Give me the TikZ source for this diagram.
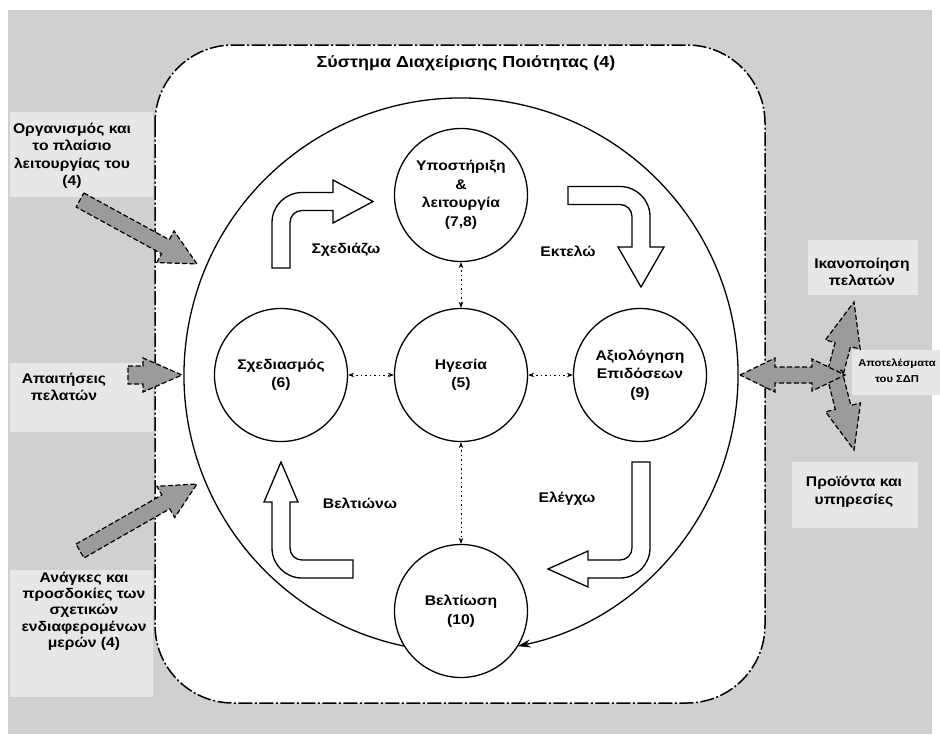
\documentclass[tikz,border=0pt]{standalone}
\usepackage{fontspec}
\setmainfont{Liberation Sans}[FakeStretch=1.12]
\usetikzlibrary{arrows.meta,calc}
\definecolor{bggray}{RGB}{208,208,208}
\definecolor{boxgray}{RGB}{231,231,231}
\definecolor{arrgray}{RGB}{155,155,155}
\newcommand\garrow[7]{%
 \pgfmathsetmacro\gdx{#3-#1}%
 \pgfmathsetmacro\gdy{#4-#2}%
 \pgfmathsetlengthmacro\glen{veclen(\gdx,\gdy)}%
 \pgfmathsetmacro\gang{atan2(-(\gdy),\gdx)}%
 \pgfmathsetlengthmacro\gb{\glen-#7pt}%
 \draw[grayarr,shift={(#1,#2)},rotate=\gang] (0pt,#5pt) -- (\gb,#5pt) -- (\gb,#6pt) -- (\glen,0pt) -- (\gb,-#6pt) -- (\gb,-#5pt) -- (0pt,-#5pt) -- cycle;}
\begin{document}
\begin{tikzpicture}[x=1pt,y=-1pt,
  lbl/.style={font=\bfseries\fontsize{14}{17.5}\selectfont, align=center, inner sep=0pt},
  circ/.style={circle, draw, line width=1.3pt, fill=white, minimum size=133pt, inner sep=0pt, align=center, font=\bfseries\fontsize{14}{18.5}\selectfont},
  hollow/.style={draw, line width=1.3pt, fill=white, line join=miter},
  grayarr/.style={draw, fill=arrgray, line width=1.2pt, dash pattern=on 5pt off 2.5pt, line join=miter},
  dotc/.style={{Stealth[length=6pt,width=4.5pt]}-{Stealth[length=6pt,width=4.5pt]}, line width=0.7pt, dash pattern=on 1.5pt off 3pt},
  bigline/.style={line width=1.3pt},
  framebox/.style={draw, fill=white, line width=1.5pt, rounded corners=78pt, dash pattern=on 14pt off 2.5pt on 2pt off 2.5pt},
  lightbox/.style={fill=boxgray, draw=none}]
\useasboundingbox (0,0) rectangle (940,734);
\clip (0,0) rectangle (940,734);
% background
\fill[white] (0,0) rectangle (940,734);
\fill[bggray] (8,10) rectangle (932,734);
\fill[lightbox] (10,112) rectangle (153,197);
\fill[lightbox] (10,363) rectangle (153,432);
\fill[lightbox] (10,570) rectangle (153,697);
\fill[lightbox] (808,240) rectangle (918,295);
\fill[lightbox] (852,350) rectangle (940,395);
\fill[lightbox] (792,462) rectangle (918,528);
% frame
\draw[framebox] (155,45) rectangle (765,703);
\node[font=\bfseries\fontsize{16}{18}\selectfont, inner sep=0pt] (title) at (466,63) {Σύστημα Διαχείρισης Ποιότητας (4)};
% big circle
\coordinate (bigc) at (461,375);
\draw[bigline,-{Stealth[length=13pt,width=8pt]}] ([shift={(258.2:277pt)}]bigc) arc[start angle=258.2,end angle=-78.2,radius=277pt];
% hollow arrows
\draw[hollow] (272,268) -- (272,222.5) arc[start angle=180,end angle=90,radius=30pt] -- (333,192.5) -- (333,180) -- (373,201.5) -- (333,223) -- (333,210.5) -- (302,210.5) arc[start angle=90,end angle=180,radius=12pt] -- (290,268) -- cycle;
\draw[hollow] (568,186.5) -- (620,186.5) arc[start angle=90,end angle=0,radius=30pt] -- (650,247) -- (664,247) -- (641,287) -- (618,247) -- (632,247) -- (632,216.5) arc[start angle=0,end angle=90,radius=12pt] -- (568,204.5) -- cycle;
\draw[hollow] (632,462) -- (650,462) -- (650,548) arc[start angle=0,end angle=-90,radius=30pt] -- (588,578) -- (588,587) -- (548,569) -- (588,551) -- (588,560) -- (620,560) arc[start angle=-90,end angle=0,radius=12pt] -- cycle;
\draw[hollow] (353,560) -- (353,578) -- (302,578) arc[start angle=-90,end angle=-180,radius=30pt] -- (272,502) -- (264,502) -- (281,462) -- (298,502) -- (290,502) -- (290,548) arc[start angle=180,end angle=270,radius=12pt] -- cycle;
\node[lbl] (tS) at (346,250) {Σχεδιάζω};
\node[lbl] (tE) at (568,251) {Εκτελώ};
\node[lbl] (tB) at (360,503) {Βελτιώνω};
\node[lbl] (tL) at (567,499) {Ελέγχω};
% circles
\node[circ] (supp) at (461,195) {Υποστήριξη\\\&\\λειτουργία\\(7,8)};
\node[circ] (plan) at (281,375) {Σχεδιασμός\\(6)};
\node[circ] (lead) at (461,375) {Ηγεσία\\(5)};
\node[circ] (eval) at (640,375) {Αξιολόγηση\\Επιδόσεων\\(9)};
\node[circ] (impr) at (461,611) {Βελτίωση\\(10)};
\draw[dotc] (supp) -- (lead);
\draw[dotc] (plan) -- (lead);
\draw[dotc] (lead) -- (eval);
\draw[dotc] (lead) -- (impr);
% side labels
\node[lbl] (org) at (72,156) {Οργανισμός και\\το πλαίσιο\\λειτουργίας του\\(4)};
\node[lbl] (req) at (64,387) {Απαιτήσεις\\πελατών};
\node[lbl, font=\bfseries\fontsize{14}{16.3}\selectfont] (needs) at (84,611) {Ανάγκες και\\προσδοκίες των\\σχετικών\\ενδιαφερομένων\\μερών (4)};
\node[lbl] (sat) at (862,272) {Ικανοποίηση\\πελατών};
\node[lbl, font=\bfseries\fontsize{10}{16}\selectfont] (res) at (897,371) {Αποτελέσματα\\του ΣΔΠ};
\node[lbl] (prod) at (854,492) {Προϊόντα και\\υπηρεσίες};
% gray arrows
\garrow{80}{200}{197}{264}{8}{18}{36}
\garrow{80}{551}{197}{484}{8}{18}{36}
\garrow{128}{375}{182}{375}{9}{17}{39}
\garrow{834}{378}{854}{302}{8}{18}{44}
\garrow{834}{372}{854}{450}{8}{18}{44}
\draw[grayarr] (740,375) -- (775,358) -- (775,367) -- (812,367) -- (812,359) -- (845,375) -- (812,391) -- (812,383) -- (775,383) -- (775,392) -- cycle;
\end{tikzpicture}
\end{document}
